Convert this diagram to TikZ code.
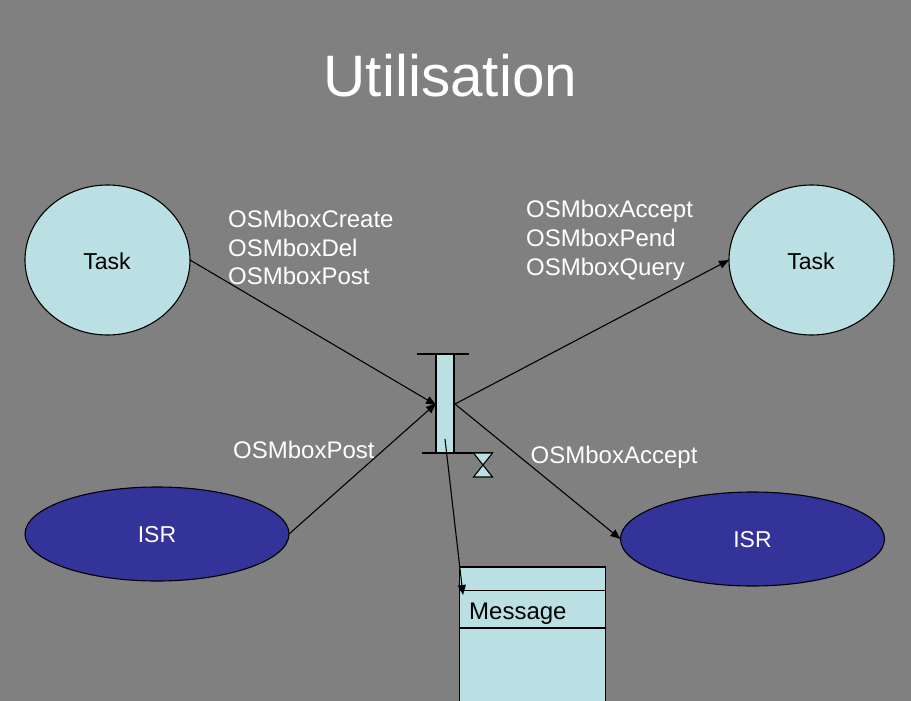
\documentclass[tikz,border=0pt]{standalone}
\usepackage{fontspec}
\setmainfont{Liberation Sans}
\usetikzlibrary{shapes.geometric,arrows.meta}
\definecolor{bggray}{HTML}{808080}
\definecolor{pale}{HTML}{BBE0E3}
\definecolor{deep}{HTML}{333399}
\tikzset{
  blob/.style={ellipse,draw=black,line width=1.1pt,inner sep=0pt,outer sep=0pt},
  taskblob/.style={blob,fill=pale,minimum width=165pt,minimum height=150pt},
  isrblob/.style={blob,fill=deep,minimum width=264pt,minimum height=94pt},
  blobtext/.style={inner sep=0pt,font=\fontsize{23}{26}\selectfont},
  api/.style={anchor=base west,text=white,inner sep=0pt,font=\fontsize{24}{28}\selectfont},
  link/.style={draw=black,line width=1.1pt,-{Triangle[length=10pt,width=8pt]}},
  edge/.style={draw=black,line width=1.1pt},
  paneled/.style={draw=black,fill=pale,line width=1.1pt,inner sep=0pt,outer sep=0pt},
}
\begin{document}
\begin{tikzpicture}[x=1pt,y=-1pt]
\useasboundingbox (0,0) rectangle (911,701);
\clip (0,0) rectangle (911,701);
\fill[bggray] (0,0) rectangle (911,701);

\node[anchor=base,text=white,inner sep=0pt,font=\fontsize{58.5}{64}\selectfont] (title) at (450.5,96) {Utilisation};

\node[taskblob] (taskL) at (107.5,260) {};
\node[blobtext,text=black] (taskLt) at (107,261) {Task};
\node[taskblob] (taskR) at (811.5,260) {};
\node[blobtext,text=black] (taskRt) at (811,261) {Task};
\node[isrblob] (isrL) at (157,534) {};
\node[blobtext,text=white] (isrLt) at (157,535) {ISR};
\node[isrblob] (isrR) at (752.5,539) {};
\node[blobtext,text=white] (isrRt) at (752.5,540) {ISR};

\node[api] (a1) at (228,227) {OSMboxCreate};
\node[api] (a2) at (228,256) {OSMboxDel};
\node[api] (a3) at (228,284) {OSMboxPost};
\node[api] (b1) at (526,217) {OSMboxAccept};
\node[api] (b2) at (526,246) {OSMboxPend};
\node[api] (b3) at (526,275) {OSMboxQuery};
\node[api] (c1) at (233,458) {OSMboxPost};
\node[api] (c2) at (530.5,463) {OSMboxAccept};

% mailbox
\node[paneled,minimum width=18pt,minimum height=99pt] (mbox) at (445,403.5) {};
\coordinate (topL) at (417,354);
\coordinate (topR) at (469,354);
\coordinate (botL) at (422,453);
\coordinate (botR) at (493,453);
\draw[edge] (topL) -- (topR);
\draw[edge] (botL) -- (botR);
% hourglass
\coordinate (hgA) at (473.5,453);
\coordinate (hgB) at (492.5,453);
\coordinate (hgC) at (473.5,477);
\coordinate (hgD) at (492.5,477);
\draw[paneled] (hgA) -- (hgB) -- (hgC) -- (hgD) -- cycle;

% message box
\node[paneled,minimum width=146pt,minimum height=150pt,anchor=north west] (msg) at (459.5,567) {};
\node[paneled,minimum width=146pt,minimum height=37.5pt,anchor=north west] (msgrow) at (459.5,590.5) {};
\node[anchor=base west,inner sep=0pt,text=black,font=\fontsize{24}{28}\selectfont] (msgt) at (469,619) {Message};

% connectors
\coordinate (inT) at (436,405);
\coordinate (inI) at (436,403.5);
\coordinate (outP) at (455,404);
\coordinate (msgS) at (445,439);
\coordinate (msgE) at (463,595);
\draw[link] (taskL.east) -- (inT);
\draw[link] (isrL.east) -- (inI);
\draw[link] (outP) -- (taskR.west);
\draw[link] (outP) -- (isrR.west);
\draw[link] (msgS) -- (msgE);
\end{tikzpicture}
\end{document}
